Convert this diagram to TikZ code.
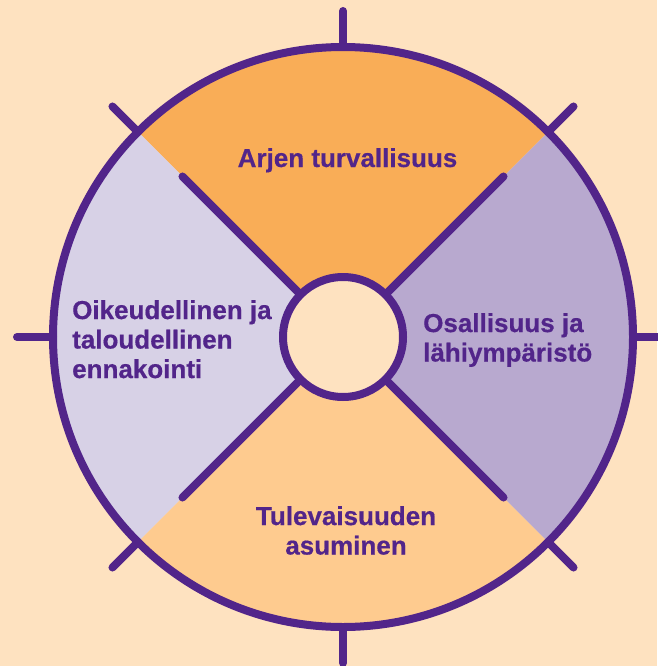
\documentclass[tikz,border=0pt]{standalone}
\usepackage{fontspec}
\setmainfont{Liberation Sans}
\newfontfamily\labelfont[FakeBold=0.5]{Liberation Sans Bold}
\definecolor{bgpeach}{HTML}{FEE2C0}
\definecolor{secTop}{HTML}{F9AD57}
\definecolor{secRight}{HTML}{B8A9CF}
\definecolor{secBottom}{HTML}{FECB8F}
\definecolor{secLeft}{HTML}{D7D1E6}
\definecolor{ink}{HTML}{52258A}
\tikzset{
  ring/.style={draw=ink,line width=8pt},
  tickline/.style={draw=ink,line width=8pt,line cap=round},
  spoke/.style={draw=ink,line width=8pt,line cap=round},
  hub/.style={circle,draw=ink,line width=8pt,fill=bgpeach,minimum size=120pt,inner sep=0pt},
  lbl/.style={text=ink,inner sep=0pt,font=\labelfont\fontsize{26}{29.5}\selectfont}
}
\begin{document}
\begin{tikzpicture}[x=1pt,y=1pt]
\fill[bgpeach] (0,0) rectangle (657,-666);
\useasboundingbox (0,0) rectangle (657,-666);
\coordinate (C) at (343,-337);
% sectors
\fill[secTop] (C) -- ++(45:290) arc[start angle=45,end angle=135,radius=290] -- cycle;
\fill[secLeft] (C) -- ++(135:290) arc[start angle=135,end angle=225,radius=290] -- cycle;
\fill[secBottom] (C) -- ++(225:290) arc[start angle=225,end angle=315,radius=290] -- cycle;
\fill[secRight] (C) -- ++(315:290) arc[start angle=315,end angle=405,radius=290] -- cycle;
% outer ring
\draw[ring] (C) circle[radius=290];
% ticks
\foreach \a in {0,45,...,315}
  \draw[tickline] ([shift={(\a:290)}]C) -- ([shift={(\a:326)}]C);
% spokes
\foreach \a in {45,135,225,315}
  \draw[spoke] ([shift={(\a:60)}]C) -- ([shift={(\a:227)}]C);
% hub
\node[hub] (hub) at (C) {};
% labels
\node[lbl,anchor=base] (top) at (347.5,-167) {Arjen turvallisuus};
\node[lbl,anchor=north west,align=left] (left) at (72,-300) {Oikeudellinen ja\\taloudellinen\\ennakointi};
\node[lbl,anchor=north west,align=left] (right) at (423,-313) {Osallisuus ja\\lähiympäristö};
\node[lbl,anchor=north,align=center] (bottom) at (346,-506) {Tulevaisuuden\\asuminen};
\end{tikzpicture}
\end{document}
